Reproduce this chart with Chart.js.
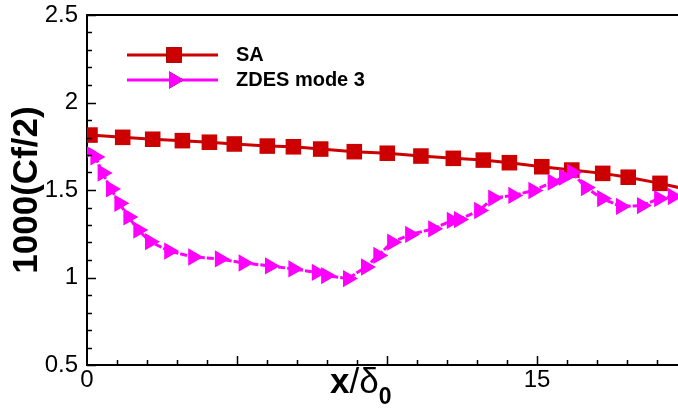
<!DOCTYPE html>
<html>
<head>
<meta charset="utf-8">
<script src="https://cdn.jsdelivr.net/npm/chart.js@4/dist/chart.umd.min.js"></script>
<style>
  html, body { margin: 0; padding: 0; background: #fff; }
  #wrap { width: 678px; height: 410px; }
</style>
</head>
<body>
<div id="wrap"><canvas id="myChart" width="678" height="410"></canvas></div>
<script>
// SA curve
var saX = [0.1, 1.19, 2.19, 3.18, 4.08, 4.91, 6.01, 6.88, 7.79, 8.91, 10.01, 11.13, 12.21, 13.21, 14.08, 15.16, 16.16, 17.19, 18.04, 19.1, 20.1];
var saY = [1.814, 1.801, 1.790, 1.782, 1.773, 1.763, 1.751, 1.747, 1.734, 1.719, 1.710, 1.694, 1.681, 1.671, 1.656, 1.633, 1.614, 1.595, 1.573, 1.538, 1.50];

// ZDES mode 3 curve
var zdesX = [0.0, 0.28, 0.52, 0.8, 1.08, 1.38, 1.71, 2.1, 2.74, 3.54, 4.43, 5.22, 6.1, 6.88, 7.66, 7.97, 8.7, 9.3, 9.71, 10.17, 10.77, 11.54, 12.16, 12.4, 13.07, 13.54, 14.21, 14.88, 15.52, 15.9, 16.17, 16.63, 17.17, 17.8, 18.5, 19.07, 19.53];
var zdesY = [1.717, 1.689, 1.597, 1.506, 1.424, 1.346, 1.271, 1.205, 1.151, 1.117, 1.106, 1.083, 1.066, 1.049, 1.029, 1.011, 0.994, 1.06, 1.126, 1.202, 1.246, 1.278, 1.326, 1.331, 1.383, 1.454, 1.469, 1.497, 1.545, 1.574, 1.60, 1.514, 1.451, 1.406, 1.411, 1.451, 1.463];

var seriesNames = ['SA', 'ZDES mode 3'];
var yTicks = [0.5, 1, 1.5, 2, 2.5];
var xTickLabels = [0, 15];

var FONT = '"Liberation Sans", Arial, sans-serif';

function toPoints(xs, ys) {
    var pts = [];
    for (let i = 0; i < xs.length; i++) {
        pts.push({x: xs[i], y: ys[i]});
    }
    return pts;
}

// ticks pointing inward, top frame line, axis title and legend
var decor = {
    id: 'decor',
    afterDraw: function(chart) {
        var c = chart.ctx;
        var a = chart.chartArea;
        var xs = chart.scales.x, ys = chart.scales.y;
        c.save();
        c.strokeStyle = '#000';
        c.lineWidth = 2;
        c.beginPath();
        c.moveTo(a.left - 1, a.top);
        c.lineTo(a.right, a.top);
        c.stroke();

        c.lineWidth = 1.5;
        c.beginPath();
        for (let i = 0; i <= 20; i++) {
            var v = 0.5 + i * 0.1;
            var py = Math.round(ys.getPixelForValue(v)) + 0.5;
            var len = (i % 5 === 0) ? 9 : 5;
            c.moveTo(a.left, py);
            c.lineTo(a.left + len, py);
        }
        for (let i = 1; i <= 19; i++) {
            var px = Math.round(xs.getPixelForValue(i)) + 0.5;
            var len2 = (i % 5 === 0) ? 9 : 5;
            c.moveTo(px, a.bottom);
            c.lineTo(px, a.bottom - len2);
        }
        c.stroke();

        // x axis title: x/δ0
        c.fillStyle = '#000';
        c.textBaseline = 'alphabetic';
        var tx = 330, ty = 393;
        c.font = 'bold 35px ' + FONT;
        c.fillText('x', tx, ty);
        tx += c.measureText('x').width;
        c.font = '35px ' + FONT;
        c.fillText('/δ', tx, ty);
        tx += c.measureText('/δ').width;
        c.font = 'bold 23px ' + FONT;
        c.fillText('0', tx, ty + 11);

        // legend
        var ds = chart.data.datasets;
        var rows = [55, 80];
        for (let i = 0; i < ds.length; i++) {
            var d = ds[i];
            var ly = rows[i];
            c.strokeStyle = d.borderColor;
            c.lineWidth = d.borderWidth;
            c.setLineDash([]);
            c.beginPath();
            c.moveTo(127, ly);
            c.lineTo(218, ly);
            c.stroke();
            Chart.helpers.drawPoint(c, {
                pointStyle: d.pointStyle,
                radius: d.pointRadius,
                rotation: d.pointRotation || 0,
                borderWidth: 0
            }, 174, ly);
            c.fillStyle = d.backgroundColor;
            c.fill();
            c.fillStyle = '#000';
            c.font = 'bold 20px ' + FONT;
            c.textBaseline = 'middle';
            c.fillText(d.label, 236, ly);
        }
        c.restore();
    }
};

var ctx = document.getElementById('myChart').getContext('2d');

var myChart = new Chart(ctx, {
    type: 'line',
    data: {
        datasets: [{
            label: seriesNames[0],
            data: toPoints(saX, saY),
            borderColor: '#cc0000',
            backgroundColor: '#cc0000',
            borderWidth: 3,
            pointStyle: 'rect',
            pointRadius: 11,
            pointBorderWidth: 0,
            order: 1
        }, {
            label: seriesNames[1],
            data: toPoints(zdesX, zdesY),
            borderColor: '#ff00ff',
            backgroundColor: '#ff00ff',
            borderWidth: 3,
            borderDash: [7, 2],
            pointStyle: 'triangle',
            pointRotation: 90,
            pointRadius: 10,
            pointBorderWidth: 0,
            order: 0
        }]
    },
    options: {
        responsive: false,
        animation: false,
        layout: { autoPadding: false, padding: { top: 15, right: 0, left: 0, bottom: 0 } },
        plugins: {
            legend: { display: false },
            tooltip: { enabled: false }
        },
        elements: { line: { tension: 0 } },
        scales: {
            x: {
                type: 'linear',
                min: 0,
                max: 19.7,
                grid: { display: false, drawTicks: false },
                border: { display: true, color: '#000', width: 2 },
                ticks: {
                    stepSize: 5,
                    autoSkip: false,
                    maxRotation: 0,
                    padding: 1,
                    color: '#000',
                    font: { family: FONT, size: 24 },
                    callback: function(v) {
                        return xTickLabels.indexOf(v) >= 0 ? String(v) : '';
                    }
                },
                afterFit: function(s) { s.height = 45; s.paddingRight = 0; s.paddingLeft = 0; }
            },
            y: {
                min: 0.5,
                max: 2.5,
                afterBuildTicks: function(s) {
                    s.ticks = yTicks.map(function(v) { return {value: v}; });
                },
                grid: { display: false, drawTicks: false },
                border: { display: true, color: '#000', width: 2 },
                ticks: {
                    padding: 9,
                    color: '#000',
                    font: { family: FONT, size: 24 },
                    callback: function(v) { return String(v); }
                },
                title: {
                    display: true,
                    text: '1000(Cf/2)',
                    color: '#000',
                    font: { family: FONT, size: 35, weight: 'bold' },
                    padding: { top: 6, bottom: 0 }
                },
                afterFit: function(s) { s.width = 87; s.paddingTop = 0; s.paddingBottom = 0; }
            }
        }
    },
    plugins: [decor]
});
</script>
</body>
</html>
